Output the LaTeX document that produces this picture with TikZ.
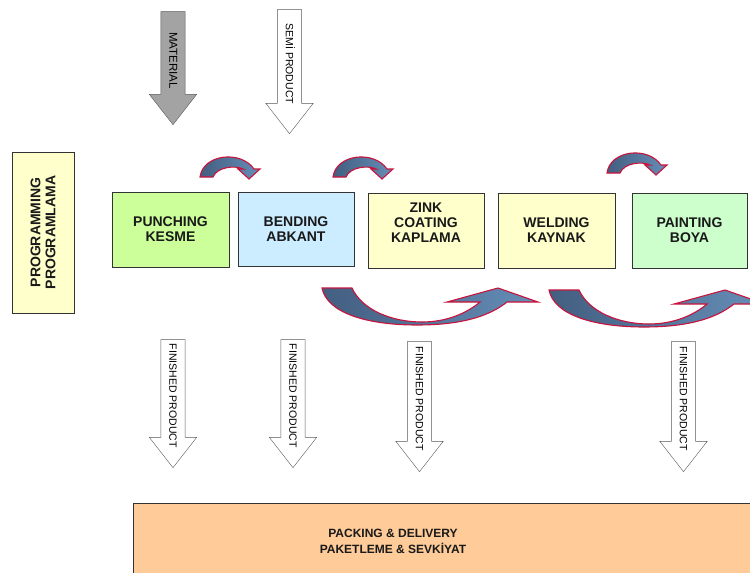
\documentclass[tikz,border=0pt]{standalone}
\usepackage{fontspec}
\setmainfont{Liberation Sans}
\usetikzlibrary{shapes.arrows}

\definecolor{boxline}{HTML}{333333}
\definecolor{progyellow}{HTML}{FFFFCC}
\definecolor{punchgreen}{HTML}{CCFF99}
\definecolor{bendblue}{HTML}{CCECFF}
\definecolor{paintgreen}{HTML}{CCFFCC}
\definecolor{packorange}{HTML}{FFCC99}
\definecolor{matgray}{HTML}{A3A3A3}
\definecolor{hopred}{HTML}{C8143C}
\definecolor{hopdark}{HTML}{435E80}
\definecolor{hoplight}{HTML}{658EB8}

\begin{document}
\begin{tikzpicture}[x=1pt,y=-1pt,
    stepbox/.style={rectangle,draw=boxline,line width=0.8pt,align=center,
      font=\fontsize{14}{15}\selectfont\bfseries,text=black!90},
    flowarrow/.style={single arrow,draw=black!65,fill=white,rotate=-90,anchor=tip,
      font=\fontsize{10.5}{12}\selectfont,text height=7.5pt,text depth=0pt,
      inner ysep=8.2pt,inner xsep=1pt,single arrow head extend=11.5pt,
      single arrow tip angle=76},
    hop/.style={draw=hopred,line width=1.1pt,left color=hopdark,right color=hoplight}]
  \useasboundingbox (0,0) rectangle (750,573);

  % work stations
  \node (prog) at (43,232.5) [stepbox,fill=progyellow,rotate=90,minimum width=161pt,minimum height=62pt] {PROGRAMMING\\PROGRAMLAMA};
  \node (punch) at (170.5,229.5) [stepbox,fill=punchgreen,minimum width=117pt,minimum height=75pt] {PUNCHING\\KESME};
  \node (bend) at (296,229) [stepbox,fill=bendblue,minimum width=116pt,minimum height=74pt] {BENDING\\ABKANT};
  \node (zink) at (426,230.5) [stepbox,fill=progyellow,minimum width=116pt,minimum height=75pt,text depth=16pt] {ZINK\\COATING\\KAPLAMA};
  \node (weld) at (556.5,230.5) [stepbox,fill=progyellow,minimum width=117pt,minimum height=75pt] {WELDING\\KAYNAK};
  \node (paint) at (689.5,230.5) [stepbox,fill=paintgreen,minimum width=115pt,minimum height=75pt] {PAINTING\\BOYA};
  \node (pack) at (133,503) [stepbox,fill=packorange,anchor=north west,minimum width=640pt,minimum height=100pt] {};
  \node (packtext) at (393,541.5) [align=center,font=\fontsize{12}{16}\selectfont\bfseries,text=black!90] {PACKING \& DELIVERY\\PAKETLEME \& SEVKİYAT};

  % incoming and outgoing goods
  \node (mat) at (173,125) [flowarrow,fill=matgray,minimum height=113pt,font=\fontsize{11.5}{12}\selectfont] {MATERIAL};
  \node (semi) at (289.5,134) [flowarrow,minimum height=124pt] {SEMİ PRODUCT};
  \foreach \x/\y/\l/\n in {173/468/128/1,293/468/128/2,419.5/472/130/3,683.5/472/130/4}
    \node (fin\n) at (\x,\y) [flowarrow,minimum height=\l pt] {FINISHED PRODUCT};

  % small hops between stations
  \foreach \x/\y in {200/177,333/177,607/173}
    \draw[hop,shift={(\x,\y)}] (0,0) .. controls (3,-23) and (41,-27) .. (54,-8) -- (60,-8) -- (49,2) -- (38,-8) -- (43,-8)
      .. controls (35,-12) and (17,-10) .. (13,0) -- cycle;

  % large hops under the stations
  \foreach \x/\y in {322/288,549/290}
    \draw[hop,shift={(\x,\y)}] (0,0) -- (30,0) .. controls (40,22) and (70,34) .. (100,34)
      .. controls (125,34) and (145,25) .. (158,14) -- (125,14) -- (176,0) -- (216,14) -- (185,14)
      .. controls (165,30) and (135,37) .. (95,37) .. controls (45,37) and (5,25) .. (0,0) -- cycle;
\end{tikzpicture}
\end{document}
